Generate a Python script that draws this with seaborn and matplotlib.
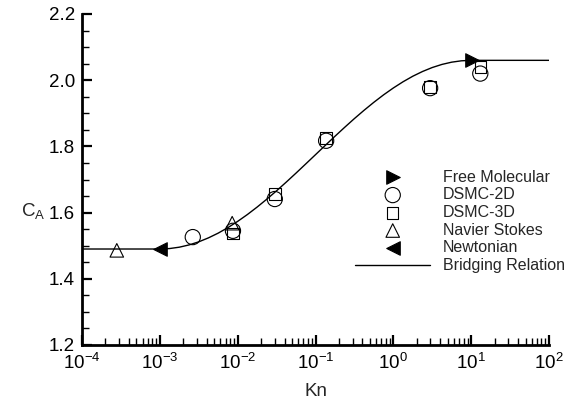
import matplotlib
matplotlib.use('Agg')
import matplotlib.pyplot as plt
import matplotlib.ticker as mticker
import numpy as np
import pandas as pd
import seaborn as sns

# values
kn_fm = [10.4]
ca_fm = [2.06]

kn_dsmc2d = [2.65e-3, 8.7e-3, 0.030, 0.137, 2.97, 13.1]
ca_dsmc2d = [1.526, 1.545, 1.641, 1.817, 1.976, 2.020]

kn_dsmc3d = [8.7e-3, 0.030, 0.137, 2.97, 13.1]
ca_dsmc3d = [1.537, 1.656, 1.826, 1.979, 2.040]

kn_ns = [2.8e-4, 8.5e-3]
ca_ns = [1.486, 1.568]

kn_newt = [1e-3]
ca_newt = [1.49]

# bridging relation (every 1/8 decade in the transition)
logkn_bridge = [-4.0, -3.0, -2.875, -2.75, -2.625, -2.5, -2.375, -2.25, -2.125,
                -2.0, -1.875, -1.75, -1.625, -1.5, -1.375, -1.25, -1.125,
                -1.0, -0.875, -0.75, -0.625, -0.5, -0.375, -0.25, -0.125,
                0.0, 0.125, 0.25, 0.375, 0.5, 0.625, 0.75, 0.875, 1.0, 2.0]
ca_bridge = [1.490, 1.490, 1.4914, 1.4955, 1.5023, 1.5117, 1.5237, 1.5380, 1.5547,
             1.5735, 1.5942, 1.6167, 1.6407, 1.6659, 1.6923, 1.7194, 1.7471,
             1.7750, 1.8029, 1.8306, 1.8577, 1.8841, 1.9093, 1.9333, 1.9558,
             1.9765, 1.9953, 2.0120, 2.0263, 2.0383, 2.0477, 2.0545, 2.0586, 2.0600, 2.0600]

bridge = pd.DataFrame({'Kn': 10.0 ** np.array(logkn_bridge), 'CA': ca_bridge})

sns.set_style('ticks')
plt.rcParams['font.family'] = ['Liberation Sans', 'DejaVu Sans']
plt.rcParams['mathtext.fontset'] = 'custom'
plt.rcParams['mathtext.rm'] = 'Liberation Sans'
plt.rcParams['mathtext.it'] = 'Liberation Sans'

fig = plt.figure(figsize=(5.69, 4.09), dpi=100)
ax = fig.add_axes([82 / 569, 64 / 409, 467 / 569, 331 / 409])

sns.lineplot(data=bridge, x='Kn', y='CA', color='black', lw=1.0, ax=ax,
             estimator=None, sort=False, label='Bridging Relation', zorder=2)

sns.scatterplot(x=kn_fm, y=ca_fm, marker='>', s=95, color='black',
                edgecolor='black', ax=ax, label='Free Molecular', zorder=4)
sns.scatterplot(x=kn_dsmc2d, y=ca_dsmc2d, marker='o', s=120, facecolor='none',
                edgecolor='black', linewidth=0.8, ax=ax, label='DSMC-2D', zorder=3)
sns.scatterplot(x=kn_dsmc3d, y=ca_dsmc3d, marker='s', s=68, facecolor='none',
                edgecolor='black', linewidth=0.8, ax=ax, label='DSMC-3D', zorder=3)
sns.scatterplot(x=kn_ns, y=ca_ns, marker='^', s=95, facecolor='none',
                edgecolor='black', linewidth=0.8, ax=ax, label='Navier Stokes', zorder=3)
sns.scatterplot(x=kn_newt, y=ca_newt, marker='<', s=95, color='black',
                edgecolor='black', ax=ax, label='Newtonian', zorder=4)

ax.set_xscale('log')
ax.set_xlim(1e-4, 1e2)
ax.set_ylim(1.2, 2.2)
ax.xaxis.set_major_locator(mticker.LogLocator(base=10, numticks=10))
ax.xaxis.set_minor_locator(mticker.LogLocator(base=10, subs=np.arange(2, 10), numticks=10))
ax.xaxis.set_minor_formatter(mticker.NullFormatter())
ax.yaxis.set_major_locator(mticker.MultipleLocator(0.2))
ax.yaxis.set_minor_locator(mticker.MultipleLocator(0.05))
ax.yaxis.set_major_formatter(mticker.FormatStrFormatter('%.1f'))

for side in ['top', 'right']:
    ax.spines[side].set_visible(False)
for side in ['left', 'bottom']:
    ax.spines[side].set_linewidth(2.0)
    ax.spines[side].set_color('black')
ax.tick_params(which='major', direction='in', length=7.5, width=1.6, labelsize=13.5,
               colors='black')
ax.tick_params(axis='x', which='major', pad=6)
ax.tick_params(axis='y', which='major', pad=5)
ax.tick_params(which='minor', direction='in', length=5, width=1.0, colors='black')

ax.set_xlabel('Kn', fontsize=13.5, labelpad=7)
ax.set_ylabel(r'$\mathrm{C_A}$', fontsize=13.5, rotation=0, ha='center', va='center')
ax.yaxis.set_label_coords(-0.105, 0.405)

handles, labels = ax.get_legend_handles_labels()
order = ['Free Molecular', 'DSMC-2D', 'DSMC-3D', 'Navier Stokes', 'Newtonian', 'Bridging Relation']
hmap = dict(zip(labels, handles))
ax.legend([hmap[k] for k in order], order, loc='upper left',
          bbox_to_anchor=(0.585, 0.53), frameon=False, fontsize=11.5,
          handlelength=4.7, handletextpad=0.8, labelspacing=0.17,
          borderpad=0, borderaxespad=0)

fig.savefig('out.png', dpi=100)
